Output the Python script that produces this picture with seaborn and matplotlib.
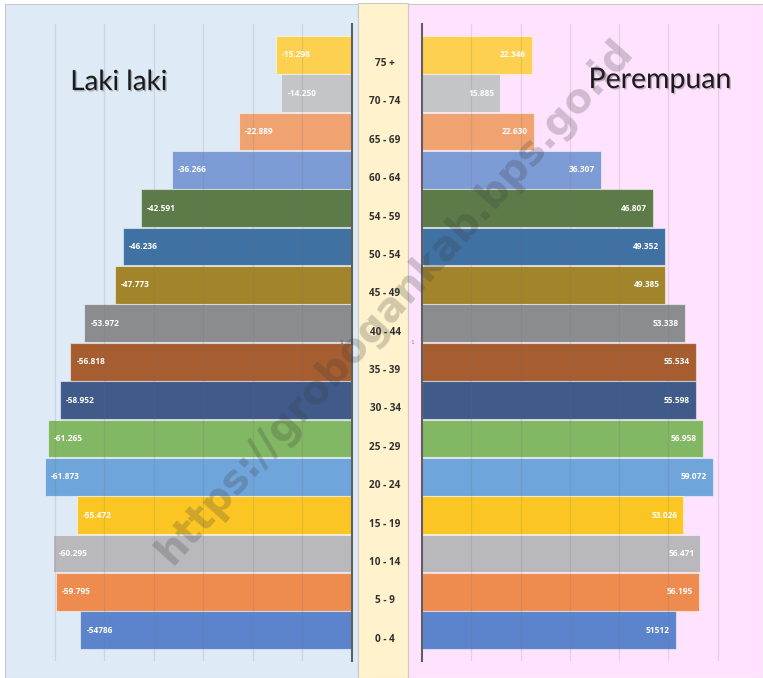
import matplotlib
matplotlib.use("Agg")
import matplotlib.pyplot as plt
import matplotlib.patheffects as pe
from matplotlib.patches import Rectangle
import pandas as pd
import seaborn as sns

# data, top row of the pyramid first
ages = ["75 +", "70 - 74", "65 - 69", "60 - 64", "54 - 59", "50 - 54", "45 - 49", "40 - 44",
        "35 - 39", "30 - 34", "25 - 29", "20 - 24", "15 - 19", "10 - 14", "5 - 9", "0 - 4"]
male = [15298, 14250, 22889, 36266, 42591, 46236, 47773, 53972,
        56818, 58952, 61265, 61873, 55472, 60295, 59795, 54786]
female = [22346, 15885, 22630, 36307, 46807, 49352, 49385, 53338,
          55534, 55598, 56958, 59072, 53026, 56471, 56195, 51512]
male_labels = ["-15.298", "-14.250", "-22.889", "-36.266", "-42.591", "-46.236", "-47.773", "-53.972",
               "-56.818", "-58.952", "-61.265", "-61.873", "-55.472", "-60.295", "-59.795", "-54786"]
female_labels = ["22.346", "15.885", "22.630", "36.307", "46.807", "49.352", "49.385", "53.338",
                 "55.534", "55.598", "56.958", "59.072", "53.026", "56.471", "56.195", "51512"]
colors = ["#FDD04F", "#C4C5C9", "#F0A371", "#7D9BD5", "#5C7B48", "#3F71A2", "#A2852A", "#8B8C90",
          "#A65D30", "#405A8A", "#82B763", "#6FA5DA", "#FBC623", "#B9B9BD", "#EE8C4F", "#5B84CC"]

df = pd.DataFrame({"age": ages, "male": [-v for v in male], "female": female})

plt.rcParams["font.family"] = ["Lato", "DejaVu Sans"]
bold_font = ["Open Sans", "DejaVu Sans"]

W, H = 763, 678
fig = plt.figure(figsize=(W / 100, H / 100), dpi=100)
fig.patch.set_facecolor("white")


def fr(x0, y0, x1, y1):
    return [x0 / W, 1 - y1 / H, (x1 - x0) / W, (y1 - y0) / H]


# panel backgrounds
for x0, y0, x1, y1, fc in [(5, 4, 358, 678, "#DEEAF6"), (358, 3, 408, 678, "#FFF2CC"),
                           (408, 4, 763, 678, "#FFE3FE")]:
    fig.patches.append(Rectangle((x0 / W, 1 - y1 / H), (x1 - x0) / W, (y1 - y0) / H,
                                 transform=fig.transFigure, facecolor=fc,
                                 edgecolor="#C9C9C9", linewidth=0.8, zorder=-5))

ax_l = fig.add_axes(fr(5, 24, 352, 661))
ax_r = fig.add_axes(fr(422, 24, 763, 661))
ax_m = fig.add_axes(fr(358, 24, 408, 661))

edge = (1, 1, 1, 0.5)
sns.barplot(data=df, x="male", y="age", hue="age", palette=colors, legend=False, saturation=1,
            orient="h", width=0.985, edgecolor=edge, linewidth=0.8, ax=ax_l)
sns.barplot(data=df, x="female", y="age", hue="age", palette=colors, legend=False, saturation=1,
            orient="h", width=0.985, edgecolor=edge, linewidth=0.8, ax=ax_r)

ax_l.set_xlim(-70000, 0)
ax_r.set_xlim(0, 69200)
ax_l.set_xticks(range(-60000, 0, 10000))
ax_r.set_xticks(range(10000, 70000, 10000))

for ax in (ax_l, ax_r, ax_m):
    ax.set_facecolor("none")
    ax.set_ylim(15.8, -0.8)
    ax.set_xlabel("")
    ax.set_ylabel("")
    ax.set_yticks([])
    ax.tick_params(length=0, labelbottom=False)
    for s in ax.spines.values():
        s.set_visible(False)

for ax in (ax_l, ax_r):
    ax.set_axisbelow(False)
    ax.grid(axis="x", color="#6f6f6f", alpha=0.17, linewidth=0.9)

ax_l.spines["right"].set_visible(True)
ax_r.spines["left"].set_visible(True)
for s in (ax_l.spines["right"], ax_r.spines["left"]):
    s.set_color("#5f5f5f")
    s.set_linewidth(1.5)

ax_m.set_xlim(0, 1)
ax_m.set_xticks([])

for i in range(len(ages)):
    ax_l.text(-male[i] + 1200, i, male_labels[i], ha="left", va="center", family=bold_font,
              color="white", fontsize=6, fontweight="bold")
    ax_r.text(female[i] - 1200, i, female_labels[i], ha="right", va="center", family=bold_font,
              color="white", fontsize=6, fontweight="bold")
    ax_m.text(0.54, i + 0.23, ages[i], ha="center", va="center", family=bold_font,
              color="#303030", fontsize=7.2, fontweight="bold")

shadow = [pe.withSimplePatchShadow(offset=(1, -1), alpha=0.25)]
fig.text(119 / W, 1 - 82 / H, "Laki laki", fontsize=20, color="#1a1a1a",
         ha="center", va="center", path_effects=shadow)
fig.text(660 / W, 1 - 80 / H, "Perempuan", fontsize=20.5, color="#1a1a1a",
         ha="center", va="center", path_effects=shadow)

# tiny axis marks
fig.text(341 / W, 1 - 342 / H, "1", fontsize=4.5, color="#555555", ha="center", va="center", zorder=10)
fig.text(412 / W, 1 - 342 / H, "1", fontsize=4.5, color="#8a8a8a", ha="center", va="center", zorder=10)

# watermark
fig.text(395 / W, 1 - 302 / H, "https://grobogankab.bps.go.id", rotation=48,
         fontsize=29, fontweight="bold", family=["DejaVu Sans"], color="#3c3c3c",
         alpha=0.24, ha="center", va="center", zorder=20)

fig.savefig("out.png", dpi=100)
